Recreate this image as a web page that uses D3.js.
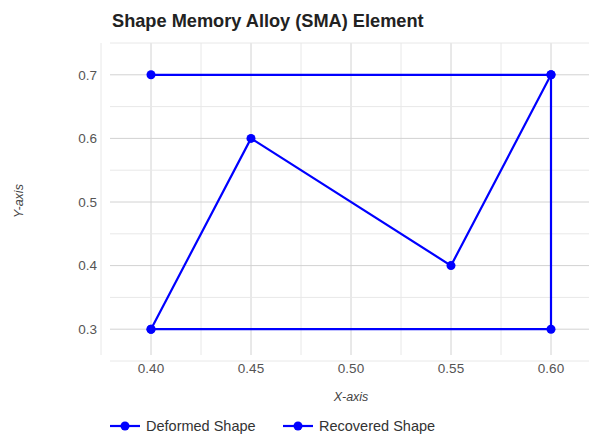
<!DOCTYPE html>
<html lang="en">
<head>
    <meta charset="UTF-8">
    <title>Shape Memory Alloy (SMA) Element</title>
    <script src="https://cdn.jsdelivr.net/npm/d3@7"></script>
    <style>
        body { margin: 0; background: #fff; }
        text { font-family: "Liberation Sans", Arial, sans-serif; }
    </style>
</head>
<body>
    <div id="app"></div>
    <script>
        var width = 589;
        var height = 435;

        // data
        var seriesNames = ["Deformed Shape", "Recovered Shape"];
        var deformedX = [0.40, 0.45, 0.55, 0.60];
        var deformedY = [0.30, 0.60, 0.40, 0.70];
        var recoveredX = [0.40, 0.60, 0.60, 0.40];
        var recoveredY = [0.70, 0.70, 0.30, 0.30];
        var xTicks = [0.40, 0.45, 0.50, 0.55, 0.60];
        var yTicks = [0.3, 0.4, 0.5, 0.6, 0.7];

        var series = [
            { name: seriesNames[0], pts: deformedX.map(function (x, i) { return [x, deformedY[i]]; }) },
            { name: seriesNames[1], pts: recoveredX.map(function (x, i) { return [x, recoveredY[i]]; }) }
        ];

        var svg = d3.select("#app")
            .append("svg")
            .attr("width", width)
            .attr("height", height);

        var x = d3.scaleLinear().domain([0.375, 0.625]).range([101, 601]);
        var y = d3.scaleLinear().domain([0.25, 0.75]).range([361, 43]);

        // grid (major at ticks, minor in between)
        var xGrid = d3.range(0.375, 0.6251, 0.025);
        var yGrid = d3.range(0.25, 0.7501, 0.05);

        svg.append("g").selectAll("line")
            .data(xGrid)
            .enter().append("line")
            .attr("x1", function (d) { return x(d); })
            .attr("x2", function (d) { return x(d); })
            .attr("y1", 43).attr("y2", 355)
            .attr("stroke", function (d, i) { return i % 2 == 1 ? "#d2d2d2" : "#e8e8e8"; })
            .attr("stroke-width", 1);

        svg.append("g").selectAll("line")
            .data(yGrid)
            .enter().append("line")
            .attr("x1", 110).attr("x2", width)
            .attr("y1", function (d) { return y(d); })
            .attr("y2", function (d) { return y(d); })
            .attr("stroke", function (d, i) { return i % 2 == 1 ? "#d2d2d2" : "#e8e8e8"; })
            .attr("stroke-width", 1);

        // tick labels
        svg.append("g").selectAll("text")
            .data(xTicks)
            .enter().append("text")
            .attr("x", function (d) { return x(d); })
            .attr("y", 368.5)
            .attr("text-anchor", "middle")
            .attr("dy", ".35em")
            .attr("font-size", 13.5)
            .attr("fill", "#555")
            .text(d3.format(".2f"));

        svg.append("g").selectAll("text")
            .data(yTicks)
            .enter().append("text")
            .attr("x", 97)
            .attr("y", function (d) { return y(d); })
            .attr("text-anchor", "end")
            .attr("dy", ".35em")
            .attr("font-size", 13.5)
            .attr("fill", "#555")
            .text(d3.format(".1f"));

        // axis titles
        svg.append("text")
            .attr("x", 351).attr("y", 397)
            .attr("text-anchor", "middle")
            .attr("dy", ".35em")
            .attr("font-size", 12.5)
            .attr("font-style", "italic")
            .attr("fill", "#444")
            .text("X-axis");

        svg.append("text")
            .attr("transform", "translate(19,201) rotate(-90)")
            .attr("text-anchor", "middle")
            .attr("dy", ".35em")
            .attr("font-size", 12.5)
            .attr("font-style", "italic")
            .attr("fill", "#444")
            .text("Y-axis");

        // title
        svg.append("text")
            .attr("x", 112).attr("y", 27)
            .attr("font-size", 18.2)
            .attr("font-weight", "bold")
            .attr("fill", "#222")
            .text("Shape Memory Alloy (SMA) Element");

        // lines + points
        var line = d3.line()
            .x(function (d) { return x(d[0]); })
            .y(function (d) { return y(d[1]); });

        var g = svg.selectAll(".series")
            .data(series)
            .enter().append("g")
            .attr("class", "series");

        g.append("path")
            .attr("d", function (d) { return line(d.pts); })
            .attr("fill", "none")
            .attr("stroke", "#0000ff")
            .attr("stroke-width", 2.2);

        g.selectAll("circle")
            .data(function (d) { return d.pts; })
            .enter().append("circle")
            .attr("cx", function (d) { return x(d[0]); })
            .attr("cy", function (d) { return y(d[1]); })
            .attr("r", 4.5)
            .attr("fill", "#0000ff");

        // legend
        var legX = [110, 283];
        var lg = svg.selectAll(".legend")
            .data(series)
            .enter().append("g")
            .attr("class", "legend")
            .attr("transform", function (d, i) { return "translate(" + legX[i] + ",426)"; });
        lg.append("line")
            .attr("x1", 0).attr("x2", 30)
            .attr("stroke", "#0000ff").attr("stroke-width", 2.2);
        lg.append("circle")
            .attr("cx", 15).attr("r", 4.5).attr("fill", "#0000ff");
        lg.append("text")
            .attr("x", 36).attr("dy", ".35em")
            .attr("font-size", 14.5)
            .attr("fill", "#333")
            .text(function (d) { return d.name; });
    </script>
</body>
</html>
